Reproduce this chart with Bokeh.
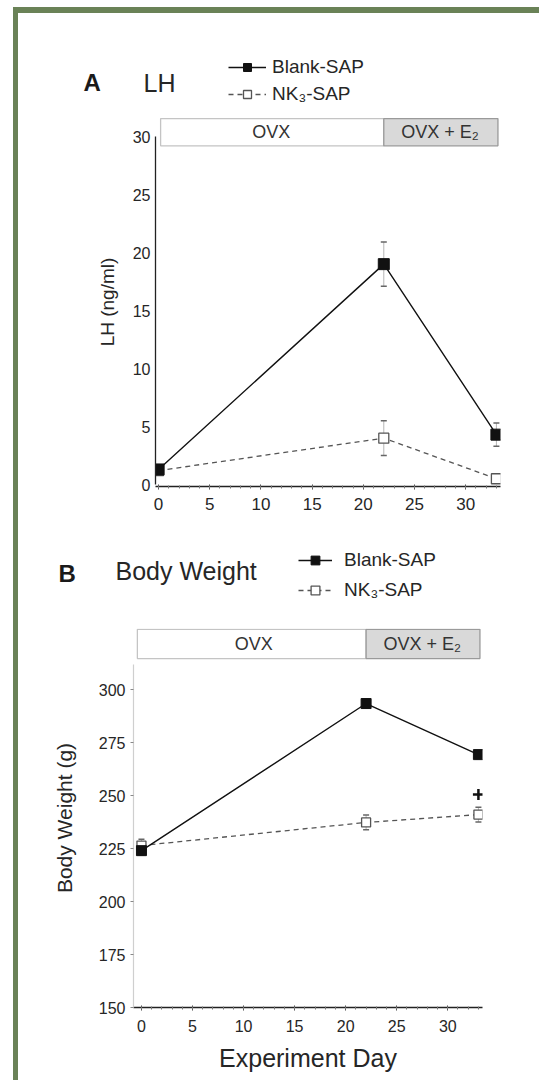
from bokeh.plotting import figure
from bokeh.models import (Whisker, TeeHead, Label, Legend, LegendItem,
                          FixedTicker, Range1d, ColumnDataSource)
from bokeh.layouts import column
from bokeh.embed import file_html
from bokeh.resources import INLINE
from bokeh.core.properties import value

# ---------------- data ----------------
days = [0, 22, 33]
series_names = ["Blank-SAP", "NK\u2083-SAP"]

lh_blank = [1.3, 19.0, 4.3]
lh_blank_se = [0.3, 1.9, 1.0]
lh_nk3 = [1.2, 4.0, 0.5]
lh_nk3_se = [0.3, 1.5, 0.3]

bw_blank = [224.0, 293.4, 269.3]
bw_blank_se = [2.0, 2.0, 2.0]
bw_nk3 = [226.4, 237.3, 241.0]
bw_nk3_se = [3.0, 3.5, 3.5]

sig_day = [33]
sig_bw = [250.5]

phase_labels = ["OVX", "OVX + E\u2082"]
phase_start = [0, 22]
phase_end = [22, 33]

x_ticks = [0, 5, 10, 15, 20, 25, 30]
lh_ticks = [0, 5, 10, 15, 20, 25, 30]
bw_ticks = [150, 175, 200, 225, 250, 275, 300]

FONT = "Liberation Sans"
TXT = "#262626"
BLANK_STYLE = dict(line_color="#111111", line_width=1.4)
NK3_STYLE = dict(line_color="#555555", line_width=1.3, line_dash="5 4")


def chart_fig(height, xr, yr, ml, mr, mt, mb):
    p = figure(width=539, height=height, x_range=Range1d(*xr), y_range=Range1d(*yr),
               output_backend="svg", toolbar_location=None,
               min_border_left=ml, min_border_right=mr, min_border_top=mt,
               min_border_bottom=mb, border_fill_color=None,
               background_fill_color=None, outline_line_color=None,
               frame_align=False)
    p.xgrid.visible = False
    p.ygrid.visible = False
    for ax in (p.xaxis[0], p.yaxis[0]):
        ax.major_label_text_font = FONT
        ax.major_label_text_color = TXT
        ax.axis_label_text_font = FONT
        ax.axis_label_text_color = TXT
        ax.axis_label_text_font_style = "normal"
    p.xaxis.ticker = FixedTicker(ticks=x_ticks, minor_ticks=list(range(0, 34)))
    p.xaxis.axis_line_color = "#222222"
    p.xaxis.axis_line_width = 1.3
    p.xaxis.major_tick_in = 2
    p.xaxis.major_tick_out = 3
    p.xaxis.minor_tick_in = 1
    p.xaxis.minor_tick_out = 2
    p.xaxis.major_tick_line_color = "#444444"
    p.xaxis.minor_tick_line_color = "#777777"
    p.yaxis.minor_tick_line_color = None
    return p


def header_fig(height):
    h = figure(width=539, height=height, x_range=Range1d(0, 539),
               y_range=Range1d(height, 0), output_backend="svg",
               toolbar_location=None, x_axis_location=None, y_axis_location=None,
               min_border=0, border_fill_color=None, background_fill_color=None,
               outline_line_color=None, frame_align=False)
    h.xgrid.visible = False
    h.ygrid.visible = False
    return h


def add_series(p, xs, ys, se, ys2, se2, msize):
    src1 = ColumnDataSource(dict(x=xs, y=ys, lo=[a - b for a, b in zip(ys, se)],
                                 hi=[a + b for a, b in zip(ys, se)]))
    src2 = ColumnDataSource(dict(x=xs, y=ys2, lo=[a - b for a, b in zip(ys2, se2)],
                                 hi=[a + b for a, b in zip(ys2, se2)]))
    for s in (src1, src2):
        w = Whisker(base="x", upper="hi", lower="lo", source=s,
                    line_color="#b5b5b5", line_width=1.0,
                    upper_head=TeeHead(size=6, line_color="#666666", line_width=1.5),
                    lower_head=TeeHead(size=6, line_color="#666666", line_width=1.5))
        p.add_layout(w)
    p.line("x", "y", source=src2, **NK3_STYLE)
    p.scatter("x", "y", source=src2, marker="square", size=msize - 1,
              fill_color="white", line_color="#555555", line_width=1.3)
    p.line("x", "y", source=src1, **BLANK_STYLE)
    p.scatter("x", "y", source=src1, marker="square", size=msize,
              fill_color="#111111", line_color="#111111")
    return src1, src2


def add_phase_box(p, bottom, top, left_pad, text_y, size):
    lefts = [s + (left_pad if i == 0 else 0) for i, s in enumerate(phase_start)]
    rights = [e + (0.15 if i == len(phase_end) - 1 else 0) for i, e in enumerate(phase_end)]
    p.quad(left=lefts, right=rights, bottom=bottom, top=top,
           fill_color=["white", "#d9d9d9"], line_color=["#c4c4c4", "#9a9a9a"],
           line_width=1.3)
    centers = [(a + b) / 2 for a, b in zip(phase_start, phase_end)]
    p.text(x=centers, y=[text_y] * len(centers), text=phase_labels,
           text_align="center", text_baseline="middle",
           text_font=value(FONT), text_font_size=size, text_color="#333333")


def add_header(h, srcs, letter_xy, title, title_xy, legend_loc, glyph_w, row_h,
               spacing, standoff, msize):
    # legend keys: hidden copies of the chart's series, used only by the legend
    s1, s2 = srcs
    l1 = h.line("x", "y", source=s1, visible=False, **BLANK_STYLE)
    m1 = h.scatter("x", "y", source=s1, marker="square", visible=False,
                   size=msize, fill_color="#111111", line_color="#111111")
    l2 = h.line("x", "y", source=s2, visible=False, **NK3_STYLE)
    m2 = h.scatter("x", "y", source=s2, marker="square", visible=False,
                   size=msize - 1, fill_color="white", line_color="#555555",
                   line_width=1.3)
    leg = Legend(items=[LegendItem(label=series_names[0], renderers=[l1, m1]),
                        LegendItem(label=series_names[1], renderers=[l2, m2])],
                 location=legend_loc, orientation="vertical",
                 background_fill_alpha=0, border_line_color=None,
                 inactive_fill_alpha=0,
                 padding=0, margin=0, spacing=spacing,
                 glyph_width=glyph_w, glyph_height=row_h, label_height=row_h,
                 label_standoff=standoff, label_text_font=FONT,
                 label_text_font_size="19px", label_text_color=TXT,
                 label_text_baseline="middle")
    h.add_layout(leg)
    h.add_layout(Label(x=letter_xy[0], y=letter_xy[1], text=title[0],
                       text_font=FONT, text_font_size="24px", text_font_style="bold",
                       text_color="#1a1a1a", text_baseline="middle"))
    h.add_layout(Label(x=title_xy[0], y=title_xy[1], text=title[1],
                       text_font=FONT, text_font_size="25px", text_color=TXT,
                       text_baseline="middle"))


# ---------------- Panel A: LH ----------------
pA = chart_fig(430, (-0.3, 33.4), (-0.17, 31.64), 155, 39, 7, 54)
pA.yaxis.bounds = (0, 30)
pA.yaxis.ticker = FixedTicker(ticks=lh_ticks)
pA.yaxis.axis_line_color = "#222222"
pA.yaxis.axis_line_width = 1.3
pA.yaxis.major_tick_in = 0
pA.yaxis.major_tick_out = 0
pA.yaxis.major_label_standoff = 5
pA.yaxis.major_label_text_font_size = "16px"
pA.yaxis.axis_label = "LH (ng/ml)"
pA.yaxis.axis_label_text_font_size = "19px"
pA.yaxis.axis_label_standoff = 12
pA.xaxis.major_label_text_font_size = "17px"
pA.xaxis.major_label_standoff = 8

add_phase_box(pA, 29.2, 31.55, 0.2, 30.4, "18px")
srcA = add_series(pA, days, lh_blank, lh_blank_se, lh_nk3, lh_nk3_se, 11)

hA = header_fig(110)
add_header(hA, srcA, (83, 82), ("A", "LH"), (143, 82), (228, 5), 38, 20, 5, 6, 11)

# ---------------- Panel B: Body weight ----------------
pB = chart_fig(470, (-0.78, 33.4), (150, 328.8), 133, 57, 18, 73)
pB.yaxis.bounds = (150, 312)
pB.yaxis.ticker = FixedTicker(ticks=bw_ticks)
pB.yaxis.axis_line_color = "#cfcfcf"
pB.yaxis.axis_line_width = 1.2
pB.yaxis.major_tick_in = 0
pB.yaxis.major_tick_out = 3
pB.yaxis.major_tick_line_color = "#888888"
pB.yaxis.major_label_standoff = 5
pB.yaxis.major_label_text_font_size = "16px"
pB.yaxis.axis_label = "Body Weight (g)"
pB.yaxis.axis_label_text_font_size = "21px"
pB.yaxis.axis_label_standoff = 20
pB.xaxis.bounds = (-1.08, 33.4)
pB.xaxis.major_label_text_font_size = "16px"
pB.xaxis.major_label_standoff = 9
pB.xaxis.axis_label = "Experiment Day"
pB.xaxis.axis_label_text_font_size = "25px"
pB.xaxis.axis_label_standoff = 9

add_phase_box(pB, 314.6, 328.4, -0.4, 321.5, "18px")
srcB = add_series(pB, days, bw_blank, bw_blank_se, bw_nk3, bw_nk3_se, 10)
pB.scatter(sig_day, sig_bw, marker="cross", size=11, line_width=2.5,
           line_color="#111111")

hB = header_fig(70)
add_header(hB, srcB, (58, 33), ("B", "Body Weight"), (115, 30), (298, 9), 34, 22, 8, 12, 10)

green = "#6a8257"
bg = (f"linear-gradient({green},{green}) 13px 7px / 5px 1073px no-repeat, "
      f"linear-gradient({green},{green}) 13px 7px / 526px 6px no-repeat, #ffffff")
layout = column(hA, pA, hB, pB, spacing=0, styles={"background": bg})

open("out.html", "w").write(file_html(layout, INLINE))
